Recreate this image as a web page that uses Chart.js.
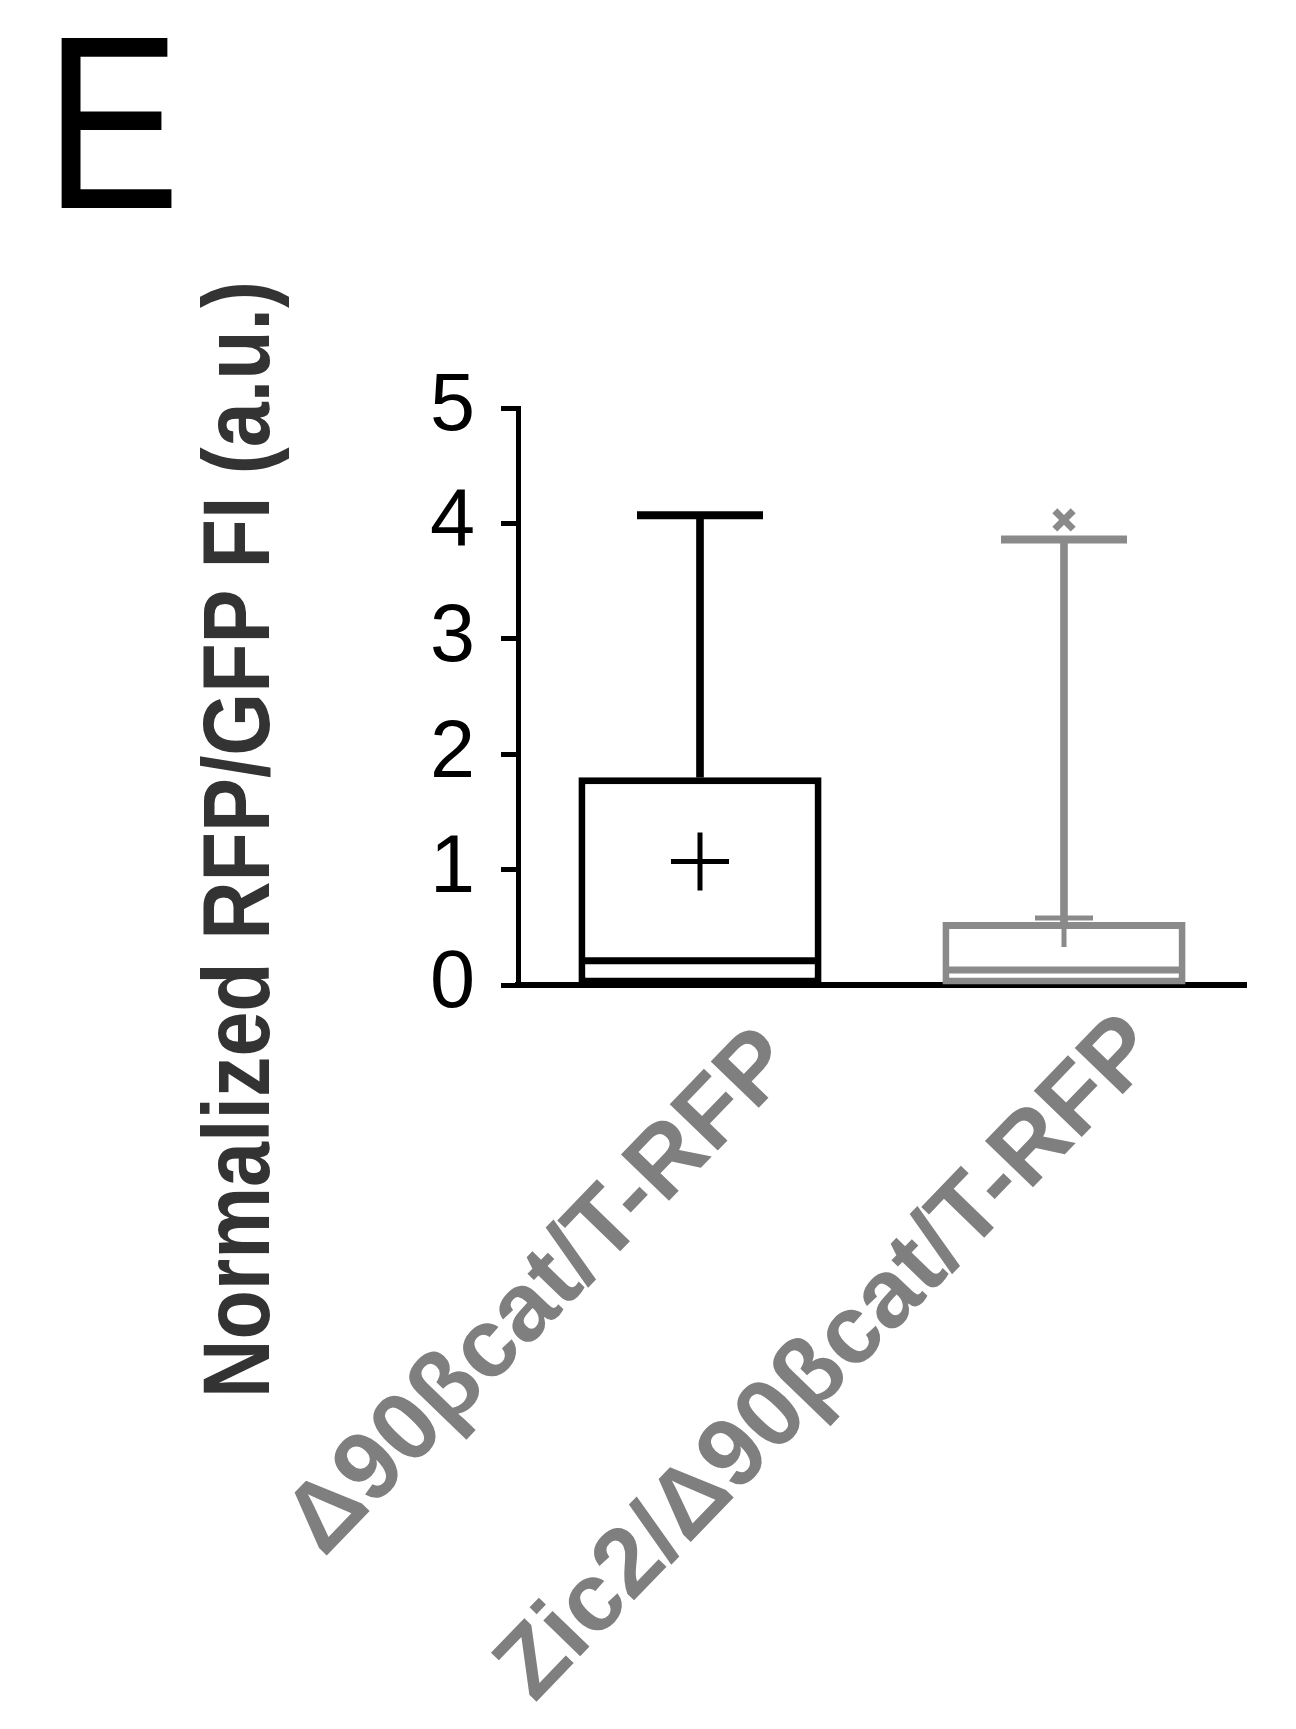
<!DOCTYPE html>
<html>
<head>
<meta charset="utf-8">
<title>Normalized RFP/GFP FI</title>
<script src="https://cdn.jsdelivr.net/npm/chart.js@4.4.1/dist/chart.umd.min.js"></script>
<style>
    html, body { margin: 0; padding: 0; background: #fff; }
    #wrap { position: relative; width: 1296px; height: 1729px; overflow: hidden; }
    #chart { position: absolute; left: 0; top: 0; }
    .panel-letter {
        position: absolute; left: 0; top: 0;
        font: 247px 'Liberation Sans', Arial, sans-serif;
        line-height: 1; color: #000;
        transform-origin: 0 0;
        transform: translate(45px, -1px) scaleX(0.82);
    }
    .y-title {
        position: absolute; left: 0; top: 0;
        font: bold 94px 'Liberation Sans', Arial, sans-serif;
        line-height: 1; color: #333; white-space: nowrap;
        transform-origin: 0 0;
        transform: translate(190px, 1398px) rotate(-90deg) scaleX(0.86);
    }
</style>
</head>
<body>
<div id="wrap">
    <canvas id="chart" width="1296" height="1729"></canvas>
    <div class="panel-letter">E</div>
    <div class="y-title">Normalized RFP/GFP FI (a.u.)</div>
</div>
<script>
// Box plot values
const categories = ['Δ90βcat/T-RFP', 'Zic2/Δ90βcat/T-RFP'];
const q1 = [0.0, 0.0];
const median = [0.21, 0.13];
const q3 = [1.80, 0.546];
const whiskerMax = [4.07, 3.86];
const mean = [1.07, 0.58];
const outlier = [null, 4.03];
const yTicks = [0, 1, 2, 3, 4, 5];

const groupColors = ['#000000', '#8a8a8a'];
const labelColor = '#7f7f7f';
const fontFamily = "'Liberation Sans', Arial, sans-serif";

const ctx = document.getElementById('chart').getContext('2d');

new Chart(ctx, {
    type: 'bar',
    data: {
        labels: categories,
        datasets: [
            // markers on top
            {
                type: 'line',
                label: 'outlier',
                data: outlier,
                showLine: false,
                pointStyle: 'crossRot',
                pointRadius: 13,
                pointBorderWidth: 7,
                pointBorderColor: groupColors,
                pointBackgroundColor: groupColors
            },
            {
                type: 'line',
                label: 'mean',
                data: mean,
                showLine: false,
                pointStyle: 'cross',
                pointRadius: 29,
                pointBorderWidth: 5,
                pointBorderColor: groupColors
            },
            {
                type: 'line',
                label: 'median',
                data: median,
                showLine: false,
                pointStyle: 'line',
                pointRadius: 120,
                pointBorderWidth: 7,
                pointBorderColor: groupColors
            },
            {
                type: 'line',
                label: 'cap',
                data: whiskerMax,
                showLine: false,
                pointStyle: 'line',
                pointRadius: 63,
                pointBorderWidth: 8,
                pointBorderColor: groupColors
            },
            {
                label: 'box',
                data: q1.map((v, i) => [v, q3[i]]),
                grouped: false,
                barPercentage: 0.668,
                categoryPercentage: 1,
                backgroundColor: '#ffffff',
                borderColor: groupColors,
                borderWidth: 7,
                borderSkipped: false
            },
            {
                label: 'whisker',
                data: q3.map((v, i) => [v, whiskerMax[i]]),
                grouped: false,
                barThickness: 7,
                backgroundColor: groupColors,
                borderWidth: 0
            }
        ]
    },
    options: {
        responsive: false,
        devicePixelRatio: 1,
        animation: false,
        layout: {
            autoPadding: false,
            padding: { left: 0, top: 408, right: 50, bottom: 0 }
        },
        plugins: {
            legend: { display: false },
            tooltip: { enabled: false },
            title: { display: false }
        },
        scales: {
            x: {
                offset: true,
                grid: { display: true, drawOnChartArea: false, drawTicks: false },
                border: { display: true, color: '#000', width: 6 },
                ticks: {
                    color: labelColor,
                    // second label sits a little higher in the figure
                    font: function (c) {
                        return { family: fontFamily, size: 97, weight: 'bold', lineHeight: c.index === 1 ? 0.8 : 1.2 };
                    },
                    minRotation: 46,
                    maxRotation: 46,
                    padding: 22,
                    labelOffset: 80,
                    autoSkip: false
                },
                afterFit: function (scale) {
                    scale.height = 1729 - 985;
                    scale.paddingLeft = 0;
                    scale.paddingRight = 0;
                }
            },
            y: {
                min: 0,
                max: 5,
                afterBuildTicks: function (scale) {
                    scale.ticks = yTicks.map(v => ({ value: v }));
                },
                grid: {
                    drawOnChartArea: false,
                    drawTicks: true,
                    tickLength: 17,
                    tickWidth: 5,
                    tickColor: '#000'
                },
                border: { display: true, color: '#000', width: 5 },
                ticks: {
                    color: '#000',
                    font: { family: fontFamily, size: 81 },
                    padding: 26
                },
                afterFit: function (scale) {
                    scale.width = 518;
                }
            }
        }
    }
});
</script>
</body>
</html>
